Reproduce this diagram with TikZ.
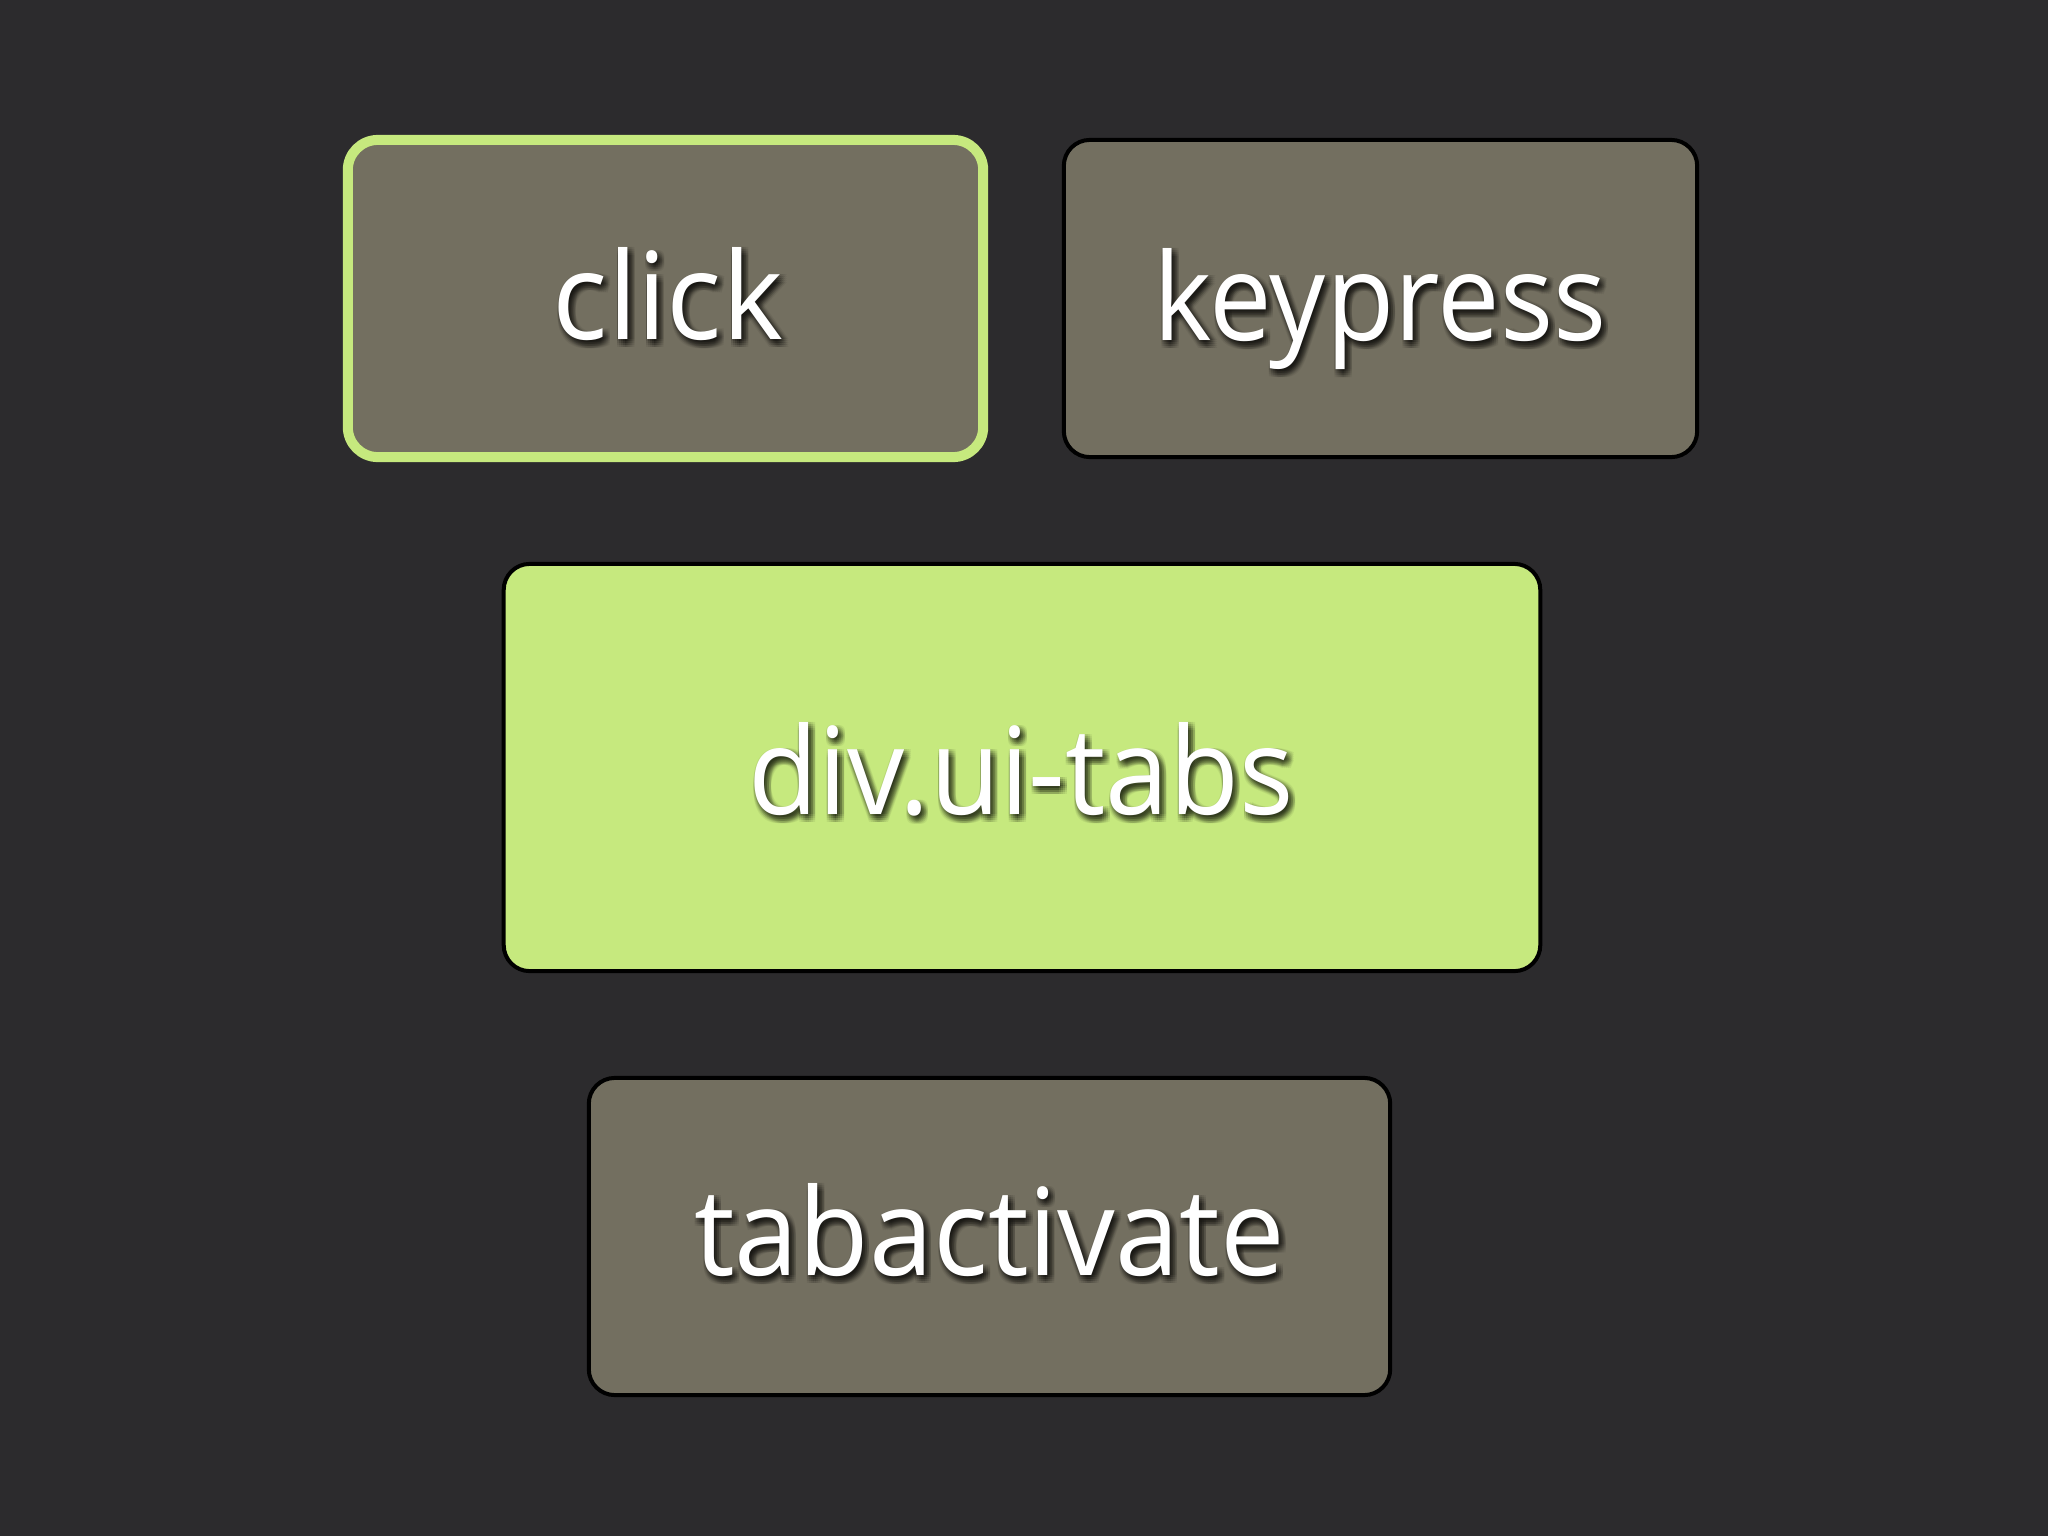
\documentclass[tikz,border=0pt]{standalone}
\usepackage{fontspec}
\setmainfont{Open Sans}
\usepackage{graphicx}
\definecolor{bg}{HTML}{2C2B2D}
\definecolor{boxgray}{HTML}{736F60}
\definecolor{lime}{HTML}{C6E97E}
\tikzset{
  evbox/.style={draw=black, line width=0.04cm, fill=boxgray, rounded corners=0.26cm, inner sep=0pt},
  selbox/.style={evbox, draw=lime, line width=0.1cm, rounded corners=0.3cm},
  elbox/.style={evbox, fill=lime},
  lbl/.style={anchor=base, inner sep=0pt, text=white},
  shd/.style={anchor=base, inner sep=0pt, text=black, opacity=0.06},
}
\newcommand{\evlabel}[5]{%
  \foreach \dx in {-1,1,3,5,7}{
    \foreach \dy in {0,2,4,6,8}{
      \node[shd] (#1s\dx\dy) at (#2+\dx,#3+\dy) {\resizebox{#4}{0.92cm}{#5}};
    }
  }
  \node[lbl] (#1) at (#2,#3) {\resizebox{#4}{0.92cm}{#5}};
}
\begin{document}
\begin{tikzpicture}[x=0.01cm,y=-0.01cm]
  \fill[bg] (0,0) rectangle (2048,1536);
  \useasboundingbox (0,0) rectangle (2048,1536);
  \node[selbox, minimum width=6.35cm, minimum height=3.17cm] (click) at (665.5,298.5) {};
  \node[evbox, minimum width=6.33cm, minimum height=3.17cm] (keypress) at (1380.5,298.5) {};
  \node[elbox, minimum width=10.36cm, minimum height=4.07cm] (tabs) at (1022,767.5) {};
  \node[evbox, minimum width=8.01cm, minimum height=3.17cm] (tabactivate) at (989.5,1236.5) {};
  \evlabel{clicklbl}{668}{339}{2.30cm}{click}
  \evlabel{keypresslbl}{1380}{340}{4.53cm}{keypress}
  \evlabel{tabslbl}{1021}{814}{5.45cm}{div.ui-tabs}
  \evlabel{tabactivatelbl}{989.5}{1275}{5.90cm}{tabactivate}
\end{tikzpicture}
\end{document}
